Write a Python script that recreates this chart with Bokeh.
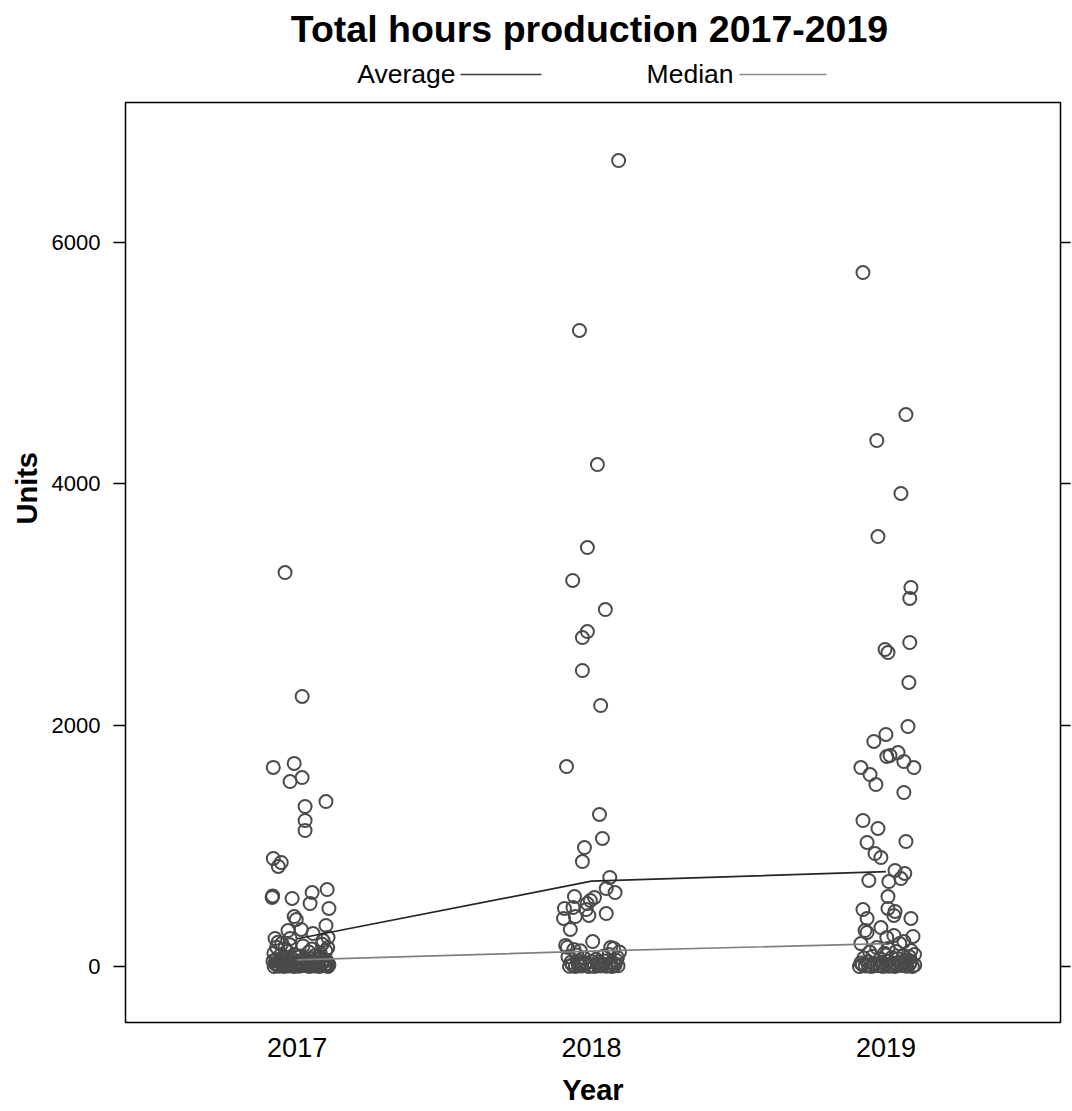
from bokeh.plotting import figure
from bokeh.models import Range1d, FixedTicker, LinearAxis, Title
from bokeh.layouts import column
from bokeh.embed import file_html
from bokeh.resources import INLINE
from bokeh.core.properties import value

title_text = "Total hours production 2017-2019"
years = [2017, 2018, 2019]
y_ticks = [0, 2000, 4000, 6000]
average = [230, 707, 787]
median = [55, 127, 190]

# ---- 2017 (jittered year, units) ----
x2017 = [2016.959, 2017.017, 2016.919, 2016.990, 2016.976, 2017.017, 2017.027, 2017.098, 2017.027, 2017.027,
         2016.919, 2016.946, 2016.936, 2016.915, 2016.917, 2016.983, 2017.051, 2017.102, 2017.044, 2017.108,
         2016.990, 2016.997, 2016.969, 2017.014, 2017.098, 2017.054, 2017.088, 2017.105, 2016.925, 2016.976,
         2016.922, 2016.939, 2016.956, 2016.973, 2016.990, 2017.007, 2017.024, 2017.041, 2017.058, 2017.075, 2017.092, 2017.105,
         2016.930, 2016.948, 2016.965, 2016.982, 2016.998, 2017.016, 2017.032, 2017.050, 2017.066, 2017.083, 2017.100,
         2016.925, 2016.945, 2016.962, 2016.980, 2017.000, 2017.018, 2017.035, 2017.052, 2017.070, 2017.088, 2017.103,
         2016.928, 2016.950, 2016.968, 2016.985, 2017.004, 2017.030, 2017.047, 2017.064, 2017.082, 2017.100,
         2016.921, 2016.944, 2016.966, 2016.990, 2017.012, 2017.040, 2017.061, 2017.079, 2017.097,
         2016.930, 2016.958, 2016.975, 2017.020, 2017.050, 2017.085, 2017.104,
         2016.933, 2016.952, 2016.995, 2017.015, 2017.044, 2017.067, 2017.096, 2016.918, 2017.108, 2016.935, 2016.948,
         2016.940, 2016.960, 2016.978, 2017.009, 2017.028, 2017.056, 2017.073, 2017.090]
u2017 = [3265, 2238, 1650, 1683, 1533, 1566, 1326, 1367, 1210, 1127,
         895, 862, 829, 572, 585, 564, 613, 638, 522, 481,
         414, 389, 298, 307, 340, 273, 215, 240, 232, 232,
         0, 3, 1, 5, 0, 2, 8, 0, 4, 1, 6, 0,
         15, 18, 12, 20, 16, 14, 19, 13, 17, 22, 11,
         25, 32, 20, 38, 28, 22, 35, 30, 26, 40, 24,
         55, 70, 48, 62, 80, 52, 66, 58, 74, 50,
         110, 95, 125, 100, 88, 120, 92, 105, 130,
         160, 150, 180, 170, 145, 185, 155,
         12, 8, 15, 10, 14, 9, 18, 45, 14, 200, 190,
         42, 60, 35, 45, 65, 40, 85, 60]

# ---- 2018 ----
x2018 = [2018.092, 2017.959, 2018.020, 2017.986, 2017.936, 2018.047, 2017.986, 2017.969, 2017.969, 2018.031,
         2017.915, 2018.027, 2018.037, 2017.976, 2017.969,
         2018.062, 2018.050, 2018.080, 2017.942, 2018.010, 2017.996, 2017.985, 2017.908, 2017.937, 2017.982,
         2017.905, 2017.945, 2017.991, 2018.050, 2017.928, 2018.004,
         2017.925, 2017.945, 2017.965, 2017.990, 2018.010, 2018.030, 2018.050, 2018.070, 2018.090,
         2017.935, 2017.955, 2017.978, 2018.000, 2018.020, 2018.040, 2018.060, 2018.080,
         2017.930, 2017.955, 2017.980, 2018.000, 2018.022, 2018.045, 2018.065, 2018.085,
         2017.920, 2017.950, 2017.975, 2018.040, 2018.060, 2018.088,
         2017.918, 2017.940, 2017.962, 2018.075, 2018.095, 2018.065, 2017.912,
         2017.960, 2018.015, 2018.035, 2018.075]
u2018 = [6679, 5271, 4160, 3472, 3199, 2958, 2776, 2726, 2453, 2163,
         1657, 1260, 1061, 986, 870,
         738, 646, 613, 580, 572, 547, 522, 481, 489, 472,
         398, 414, 423, 439, 307, 207,
         2, 0, 5, 1, 0, 4, 2, 0, 6,
         15, 12, 18, 10, 14, 16, 11, 13,
         35, 48, 30, 42, 38, 45, 30, 50,
         80, 95, 70, 85, 100, 75,
         160, 140, 130, 150, 120, 157, 175,
         25, 60, 22, 28]

# ---- 2019 ----
x2019 = [2018.922, 2019.068, 2018.969, 2019.051, 2018.973, 2019.085, 2019.081, 2019.081, 2018.997, 2019.007,
         2019.078, 2019.075, 2019.000, 2018.959, 2019.041, 2019.014, 2019.003, 2019.061, 2019.095, 2018.915,
         2018.946, 2018.966, 2019.061, 2018.922, 2018.973, 2019.068, 2018.936, 2018.963, 2018.983, 2019.031,
         2019.064, 2019.051, 2018.942, 2019.010, 2019.007, 2019.007, 2018.922, 2019.031, 2019.085, 2018.936,
         2018.983, 2018.936, 2019.092, 2019.003, 2018.915,
         2018.910, 2018.930, 2018.950, 2018.970, 2018.990, 2019.010, 2019.030, 2019.050, 2019.070, 2019.090,
         2018.920, 2018.940, 2018.960, 2018.980, 2019.000, 2019.020, 2019.040, 2019.060, 2019.080, 2019.098,
         2018.915, 2018.940, 2018.960, 2018.985, 2019.005, 2019.025, 2019.045, 2019.065, 2019.085,
         2018.925, 2018.955, 2018.980, 2019.000, 2019.020, 2019.040, 2019.060, 2019.080, 2019.097,
         2018.969, 2019.007, 2019.085, 2019.047, 2019.061, 2019.027, 2018.929, 2019.027,
         2018.945, 2018.995, 2019.035, 2019.075]
u2019 = [5751, 4574, 4359, 3920, 3563, 3141, 3050, 2685, 2627, 2602,
         2354, 1989, 1923, 1865, 1773, 1749, 1740, 1699, 1649, 1649,
         1591, 1508, 1442, 1210, 1144, 1036, 1028, 936, 903, 796,
         771, 729, 713, 704, 580, 481, 472, 456, 398, 398,
         323, 282, 249, 240, 190,
         0, 4, 1, 6, 0, 3, 0, 8, 2, 0,
         14, 10, 16, 12, 18, 11, 15, 13, 17, 12,
         30, 40, 25, 35, 45, 28, 38, 32, 42,
         70, 85, 60, 95, 75, 65, 90, 80, 100,
         157, 149, 133, 190, 207, 257, 298, 423,
         120, 110, 125, 55]

FONT = value("Liberation Sans")
W = 1072
FL, FR = 125, 1060   # frame edges (page px) shared by both stacked figures

# ---------- header: title + legend ----------
top = figure(width=W, height=98, x_range=Range1d(FL, FR), y_range=Range1d(98, 0),
             toolbar_location=None, output_backend="svg", min_border=0,
             min_border_left=FL, min_border_right=W - FR,
             x_axis_location=None, y_axis_location=None)
top.grid.visible = False
top.outline_line_color = None
top.text(x=[589], y=[28], text=[title_text], text_font=FONT, text_font_style="bold",
         text_font_size="37.5px", text_align="center", text_baseline="middle", text_color="black")
top.text(x=[455, 733], y=[73, 73], text=["Average", "Median"], text_font=FONT,
         text_font_size="26.5px", text_align="right", text_baseline="middle", text_color="black")
top.segment(x0=[460], y0=[74], x1=[541], y1=[74], line_color="#404040", line_width=1.5)
top.segment(x0=[739], y0=[74], x1=[826], y1=[74], line_color="#8c8c8c", line_width=1.5)

# ---------- main panel ----------
p = figure(width=W, height=1013, x_range=Range1d(2016.417, 2019.593), y_range=Range1d(-464, 7160),
           toolbar_location=None, output_backend="svg",
           min_border_left=FL, min_border_right=W - FR, min_border_top=4, min_border_bottom=89,
           x_axis_label="Year")
p.grid.visible = False
p.outline_line_color = "black"
p.outline_line_width = 1.5
p.background_fill_color = "white"
p.border_fill_color = "white"

for ax in p.xaxis:
    ax.ticker = FixedTicker(ticks=years)
    ax.major_tick_out = 0
    ax.major_tick_in = 0
    ax.minor_tick_out = 0
    ax.minor_tick_in = 0
    ax.axis_line_color = None
    ax.major_label_text_font = "Liberation Sans"
    ax.major_label_text_font_size = "27px"
    ax.major_label_text_color = "black"
    ax.major_label_standoff = 15
    ax.axis_label_text_font = "Liberation Sans"
    ax.axis_label_text_font_style = "bold"
    ax.axis_label_text_font_size = "29px"
    ax.axis_label_text_color = "black"
    ax.axis_label_standoff = 14

for ax in p.yaxis:
    ax.ticker = FixedTicker(ticks=y_ticks)
    ax.major_tick_out = 12
    ax.major_tick_in = 0
    ax.minor_tick_out = 0
    ax.minor_tick_in = 0
    ax.major_tick_line_color = "black"
    ax.major_tick_line_width = 1.5
    ax.axis_line_color = None
    ax.major_label_text_font = "Liberation Sans"
    ax.major_label_text_font_size = "22px"
    ax.major_label_text_color = "black"
    ax.major_label_standoff = 13

units_title = Title(text="Units", align="left", offset=498, text_font="Liberation Sans",
                    text_font_style="bold", text_font_size="29px", text_color="black", standoff=12)
p.add_layout(units_title, "left")

right = LinearAxis(ticker=FixedTicker(ticks=y_ticks))
right.major_tick_out = 10
right.major_tick_in = 0
right.minor_tick_out = 0
right.minor_tick_in = 0
right.major_tick_line_color = "black"
right.major_tick_line_width = 1.5
right.axis_line_color = None
right.major_label_overrides = {t: "" for t in y_ticks}
right.major_label_standoff = 0
p.add_layout(right, "right")

mk = dict(marker="circle", size=13, fill_color=None, line_color="#4a4a4a", line_width=2)
p.scatter(x=x2017, y=u2017, **mk)
p.scatter(x=x2018, y=u2018, **mk)
p.scatter(x=x2019, y=u2019, **mk)

p.line(x=years, y=average, line_color="#262626", line_width=1.7)
p.line(x=years, y=median, line_color="#808080", line_width=1.7)

layout = column(top, p, spacing=0)
open("out.html", "w").write(file_html(layout, INLINE))
